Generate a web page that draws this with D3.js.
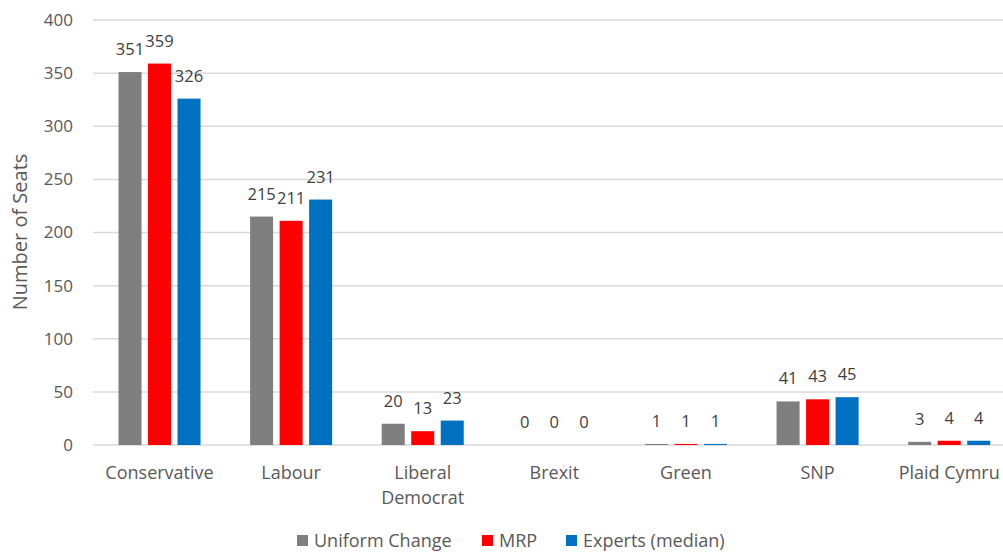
<!DOCTYPE html>
<html><head><meta charset="utf-8">
<script src="https://cdn.jsdelivr.net/npm/d3@7"></script>
<style>body{margin:0;background:#fff;}svg{display:block;}</style>
</head><body>
<svg id="chart" width="1003" height="559"></svg>
<script>
const categories = ["Conservative","Labour","Liberal Democrat","Brexit","Green","SNP","Plaid Cymru"];
const seriesNames = ["Uniform Change","MRP","Experts (median)"];
const uniformChange = [351,215,20,0,1,41,3];
const mrp = [359,211,13,0,1,43,4];
const experts = [326,231,23,0,1,45,4];
const yTicks = [0,50,100,150,200,250,300,350,400];
const colors = ["#7f7f7f","#ff0000","#0070c0"];
const series = [uniformChange, mrp, experts];

const font = "'Open Sans', sans-serif";
const svg = d3.select("#chart");
const x0 = d3.scaleBand().domain(categories).range([93.7,1015]).paddingInner(0).paddingOuter(0);
const x1 = d3.scaleBand().domain(seriesNames).range([0, x0.bandwidth()]).paddingInner(0.22).paddingOuter(0.84);
const y = d3.scaleLinear().domain([0,400]).range([445,20]);

// gridlines
svg.append("g").selectAll("line").data(yTicks).join("line")
  .attr("x1",93).attr("x2",1003).attr("y1",d=>y(d)).attr("y2",d=>y(d))
  .attr("stroke","#d9d9d9").attr("stroke-width",1.5);

// y axis labels
const yAxis = d3.axisLeft(y).tickValues(yTicks).tickSize(0).tickPadding(0);
const ya = svg.append("g").attr("transform","translate(73,0)").call(yAxis);
ya.select(".domain").remove();
ya.selectAll("text").attr("font-family",font).attr("font-size",17).attr("fill","#595959");

// y title
svg.append("text").attr("transform","translate(27,232) rotate(-90)").attr("text-anchor","middle")
  .attr("font-family",font).attr("font-size",20).attr("fill","#595959").text("Number of Seats");

// bars
const groups = svg.append("g").selectAll("g").data(categories).join("g")
  .attr("transform",d=>`translate(${x0(d)},0)`);
groups.selectAll("rect").data((c,i)=>series.map((s,j)=>({name:seriesNames[j],v:s[i],j}))).join("rect")
  .attr("x",d=>x1(d.name)).attr("width",x1.bandwidth())
  .attr("y",d=>y(d.v)).attr("height",d=>y(0)-y(d.v))
  .attr("fill",d=>colors[d.j]);
groups.selectAll("text.lbl").data((c,i)=>series.map((s,j)=>({name:seriesNames[j],v:s[i],j}))).join("text")
  .attr("class","lbl")
  .attr("x",d=>x1(d.name)+x1.bandwidth()/2).attr("y",d=>y(d.v)-17)
  .attr("text-anchor","middle").attr("font-family",font).attr("font-size",16.5).attr("fill","#404040")
  .text(d=>d.v);

// x axis labels
const xa = svg.append("g");
categories.forEach(c=>{
  const cx = x0(c)+x0.bandwidth()/2;
  const words = c==="Liberal Democrat" ? ["Liberal","Democrat"] : [c];
  words.forEach((w,k)=>{
    xa.append("text").attr("x",cx).attr("y",479+k*25).attr("text-anchor","middle")
      .attr("font-family",font).attr("font-size",18).attr("fill","#595959").text(w);
  });
});

// legend
const legX = [297,482,566];
const leg = svg.append("g");
seriesNames.forEach((n,i)=>{
  leg.append("rect").attr("x",legX[i]).attr("y",535).attr("width",11).attr("height",11).attr("fill",colors[i]);
  leg.append("text").attr("x",legX[i]+17).attr("y",547).attr("font-family",font).attr("font-size",18)
    .attr("fill","#595959").text(n);
});
</script>
</body></html>
